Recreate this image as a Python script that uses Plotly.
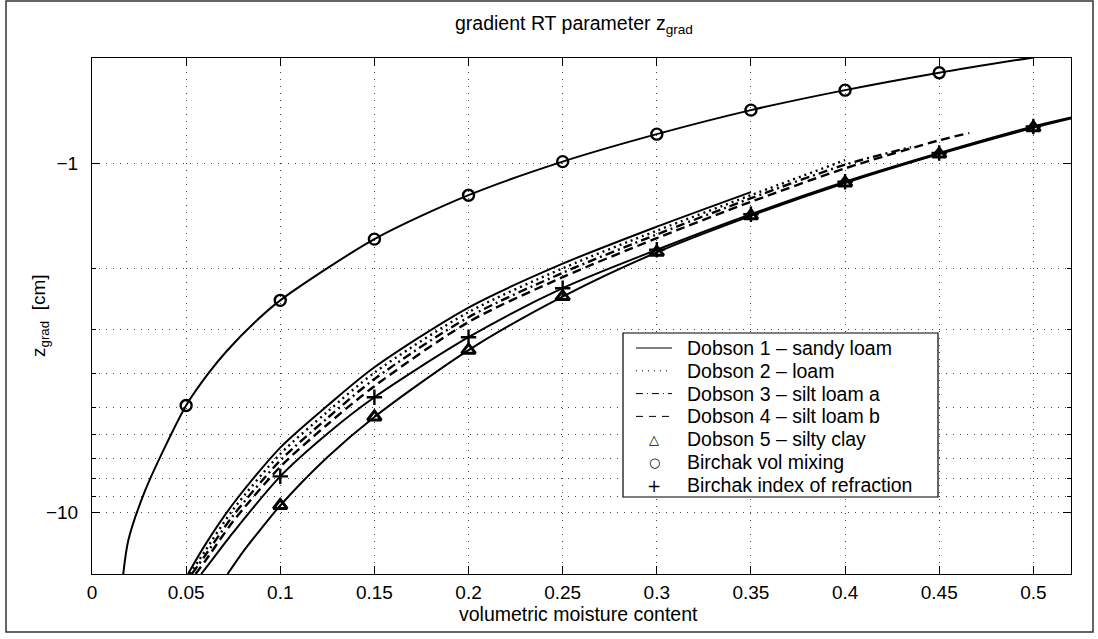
import numpy as np
import plotly.graph_objects as go

# ---------------- data (z_grad in cm, negative) ----------------
theta_bv = [0.0166, 0.0193, 0.0282, 0.0397, 0.05, 0.0618, 0.0716, 0.0875, 0.1, 0.15, 0.2, 0.25, 0.3, 0.35, 0.4, 0.45, 0.5]
z_bv = [-15.0, -12.0, -8.66, -6.34, -4.94, -4.0, -3.45, -2.82, -2.47, -1.65, -1.235, -0.99, -0.826, -0.705, -0.618, -0.551, -0.498]

theta_d1 = [0.051, 0.06, 0.075, 0.1, 0.125, 0.15, 0.2, 0.25, 0.3, 0.35]
z_d1 = [-15.0, -12.4, -9.44, -6.52, -4.95, -3.84, -2.59, -1.94, -1.52, -1.21]

theta_d2 = [0.052, 0.06, 0.075, 0.1, 0.125, 0.15, 0.2, 0.25, 0.3, 0.35, 0.4]
z_d2 = [-15.0, -12.9, -9.8, -6.8, -5.15, -3.98, -2.67, -2.0, -1.56, -1.235, -0.98]

theta_d3 = [0.053, 0.06, 0.075, 0.1, 0.125, 0.15, 0.2, 0.25, 0.3, 0.35, 0.4, 0.435]
z_d3 = [-15.0, -13.3, -10.2, -7.1, -5.37, -4.15, -2.76, -2.06, -1.60, -1.26, -1.01, -0.90]

theta_d4 = [0.055, 0.06, 0.075, 0.1, 0.125, 0.15, 0.2, 0.25, 0.3, 0.35, 0.4, 0.45, 0.466]
z_d4 = [-15.0, -13.8, -10.6, -7.4, -5.6, -4.35, -2.85, -2.12, -1.64, -1.29, -1.035, -0.86, -0.82]

theta_bi = [0.058, 0.065, 0.075, 0.1, 0.125, 0.15, 0.2, 0.25, 0.3, 0.35, 0.4, 0.45, 0.5, 0.52]
z_bi = [-15.0, -13.4, -11.4, -7.88, -5.95, -4.68, -3.15, -2.28, -1.77, -1.40, -1.13, -0.935, -0.785, -0.74]

theta_d5 = [0.072, 0.08, 0.09, 0.1, 0.125, 0.15, 0.2, 0.25, 0.3, 0.35, 0.4, 0.45, 0.5, 0.52]
z_d5 = [-15.0, -13.0, -11.1, -9.55, -6.95, -5.33, -3.43, -2.41, -1.80, -1.415, -1.14, -0.942, -0.792, -0.745]

marker_theta_bv = [0.05, 0.1, 0.15, 0.2, 0.25, 0.3, 0.35, 0.4, 0.45]
marker_theta_d5 = [0.1, 0.15, 0.2, 0.25, 0.3, 0.35, 0.4, 0.45, 0.5]
marker_theta_bi = [0.1, 0.15, 0.2, 0.25, 0.3, 0.35, 0.4, 0.45, 0.5]

x_ticks = [0, 0.05, 0.1, 0.15, 0.2, 0.25, 0.3, 0.35, 0.4, 0.45, 0.5]
x_ticktext = ["0", "0.05", "0.1", "0.15", "0.2", "0.25", "0.3", "0.35", "0.4", "0.45", "0.5"]
y_major = [1, 10]
y_major_text = ["\u22121", "\u221210"]
y_minor = [2, 3, 4, 5, 6, 7, 8, 9]

legend_names = ["Dobson 1 \u2013 sandy loam", "Dobson 2 \u2013 loam", "Dobson 3 \u2013 silt loam a",
                "Dobson 4 \u2013 silt loam b", "Dobson 5 \u2013 silty clay", "Birchak vol mixing",
                "Birchak index of refraction"]

FONT = "Liberation Sans, Arial, Helvetica, sans-serif"
BLK = "black"


def mag(v):
    return [-a for a in v]


def pick(xs, ys, sel):
    d = dict(zip(xs, ys))
    return sel, [-d[s] for s in sel]


fig = go.Figure()

line_specs = [
    (theta_d1, z_d1, "solid", 2),
    (theta_d2, z_d2, "2px,4px", 2.4),
    (theta_d3, z_d3, "9px,4px,2px,4px", 2.4),
    (theta_d4, z_d4, "9px,5px", 2.4),
    (theta_bv, z_bv, "solid", 2),
    (theta_bi, z_bi, "solid", 2),
    (theta_d5, z_d5, "solid", 2),
]
for xs, ys, dash, w in line_specs:
    fig.add_trace(go.Scatter(x=xs, y=mag(ys), mode="lines", showlegend=False,
                             line=dict(color=BLK, width=w, dash=dash, shape="spline", smoothing=0.8),
                             hoverinfo="skip"))

mx, my = pick(theta_bv, z_bv, marker_theta_bv)
fig.add_trace(go.Scatter(x=mx, y=my, mode="markers", showlegend=False, name=legend_names[5],
                         marker=dict(symbol="circle-open", size=11, color=BLK, line=dict(width=2.4, color=BLK))))
mx, my = pick(theta_d5, z_d5, marker_theta_d5)
fig.add_trace(go.Scatter(x=mx, y=my, mode="markers", showlegend=False, name=legend_names[4],
                         marker=dict(symbol="triangle-up-open", size=12, color=BLK, line=dict(width=3, color=BLK))))
mx, my = pick(theta_bi, z_bi, marker_theta_bi)
fig.add_trace(go.Scatter(x=mx, y=my, mode="markers", showlegend=False, name=legend_names[6],
                         marker=dict(symbol="cross-thin-open", size=11, color=BLK, line=dict(width=2.4, color=BLK))))

W, H = 979, 516  # plot area px
L, T = 92, 58


def px2paper_x(px):
    return (px - L) / W


def px2paper_y(py):
    return (T + H - py) / H


# ---------------- hand-built legend (box, samples, labels) ----------------
LEG_X0, LEG_X1, LEG_Y0, LEG_Y1 = 623, 938, 333, 497
ROW0, ROW_STEP = 348, 22.8
SAMPLE_X0, SAMPLE_X1, TEXT_X = 636, 672, 686

shapes = [
    dict(type="rect", xref="paper", yref="paper",
         x0=px2paper_x(6), x1=px2paper_x(1093), y0=px2paper_y(632), y1=px2paper_y(1),
         line=dict(color="#333", width=1.5), fillcolor="rgba(0,0,0,0)", layer="below"),
    dict(type="rect", xref="paper", yref="paper",
         x0=px2paper_x(LEG_X0), x1=px2paper_x(LEG_X1), y0=px2paper_y(LEG_Y1), y1=px2paper_y(LEG_Y0),
         line=dict(color=BLK, width=1.2), fillcolor="white", layer="above"),
]
sample_dashes = ["solid", "1px,5px", "7px,4px,1px,4px", "7px,6px"]
for i, dash in enumerate(sample_dashes):
    yy = px2paper_y(ROW0 + i * ROW_STEP)
    shapes.append(dict(type="line", xref="paper", yref="paper",
                       x0=px2paper_x(SAMPLE_X0), x1=px2paper_x(SAMPLE_X1), y0=yy, y1=yy,
                       line=dict(color=BLK, width=1, dash=dash), layer="above"))

annotations = [
    dict(text="gradient RT parameter z<sub>grad</sub>", xref="paper", yref="paper",
         x=px2paper_x(574), y=px2paper_y(24), xanchor="center", yanchor="middle",
         showarrow=False, font=dict(size=19.5)),
    dict(text="volumetric moisture content", xref="paper", yref="paper",
         x=px2paper_x(578), y=px2paper_y(614), xanchor="center", yanchor="middle",
         showarrow=False, font=dict(size=19.5)),
    dict(text="z<sub>grad</sub>  [cm]", xref="paper", yref="paper",
         x=px2paper_x(40), y=0.5, xanchor="center", yanchor="middle",
         textangle=-90, showarrow=False, font=dict(size=19)),
]
for i, name in enumerate(legend_names):
    annotations.append(dict(text=name, xref="paper", yref="paper",
                            x=px2paper_x(TEXT_X), y=px2paper_y(ROW0 + i * ROW_STEP),
                            xanchor="left", yanchor="middle", showarrow=False,
                            font=dict(size=19.5), borderpad=0))
legend_glyphs = [("\u25B3", 13, 0), ("\u25CB", 13, 0), ("+", 17, 1)]
for j, (g, fs, dy) in enumerate(legend_glyphs):
    i = 4 + j
    annotations.append(dict(text=g, xref="paper", yref="paper",
                            x=px2paper_x((SAMPLE_X0 + SAMPLE_X1) / 2),
                            y=px2paper_y(ROW0 + i * ROW_STEP + dy),
                            xanchor="center", yanchor="middle", showarrow=False,
                            font=dict(size=fs, family="DejaVu Sans, Liberation Sans"), borderpad=0))

fig.update_layout(
    width=1098, height=639,
    margin=dict(l=92, r=27, t=58, b=65, pad=0),
    paper_bgcolor="white", plot_bgcolor="white",
    font=dict(family=FONT, size=19, color=BLK),
    showlegend=False,
    xaxis=dict(range=[0, 0.52], tickmode="array", tickvals=x_ticks, ticktext=x_ticktext,
               ticks="inside", ticklen=8, tickcolor=BLK, tickwidth=1,
               showline=True, linecolor=BLK, linewidth=1, mirror="allticks",
               showgrid=True, gridcolor="#444", gridwidth=1, griddash="1px,6px",
               zeroline=False, tickfont=dict(size=19), ticklabelstandoff=1),
    yaxis=dict(type="log", range=[np.log10(15), np.log10(0.5)], tickmode="array",
               tickvals=y_major, ticktext=y_major_text,
               ticks="inside", ticklen=8, tickcolor=BLK, tickwidth=1,
               showline=True, linecolor=BLK, linewidth=1, mirror="allticks",
               showgrid=True, gridcolor="#444", gridwidth=1, griddash="1px,6px",
               zeroline=False, tickfont=dict(size=19), ticklabelstandoff=9,
               minor=dict(tickmode="array", tickvals=y_minor, ticks="inside", ticklen=4,
                          tickcolor=BLK, showgrid=True, gridcolor="#444", gridwidth=1,
                          griddash="1px,6px")),
    annotations=annotations,
    shapes=shapes,
)

fig.write_html("out.html")
